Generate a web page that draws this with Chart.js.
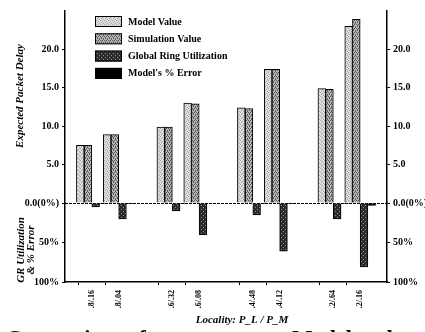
<!DOCTYPE html>
<html>
<head>
<meta charset="utf-8">
<script src="https://cdn.jsdelivr.net/npm/chart.js@4.4.0/dist/chart.umd.min.js"></script>
<style>
  html, body { margin: 0; padding: 0; background: #fff; }
  #wrap { position: relative; width: 425px; height: 332px; overflow: hidden; }
  .caption { position: absolute; top: 325px; font: bold 22px "Liberation Serif", serif; color: #000; white-space: nowrap; }
</style>
</head>
<body>
<div id="wrap">
  <canvas id="chart" width="425" height="332"></canvas>
  <div class="caption" style="left:6px;">Comparison of</div>
  <div class="caption" style="left:292px;">Model and</div>
</div>
<script>
// categories (blank slots separate the locality pairs)
const localities = ['', '.8/.16', '.8/.04', '', '.6/.32', '.6/.08', '', '.4/.48', '.4/.12', '', '.2/.64', '.2/.16', ''];

// expected packet delay
const modelValue = [null, 7.5, 8.9, null, 9.9, 13.0, null, 12.4, 17.4, null, 14.9, 23.0, null];
const simulationValue = [null, 7.5, 8.9, null, 9.9, 12.9, null, 12.3, 17.4, null, 14.8, 23.9, null];

// percentages (drawn downward)
const ringUtilization = [null, 5, 20, null, 10, 40, null, 15, 61, null, 20, 81, null];
const modelError = [null, 0.4, 0.3, null, 0.4, 0.6, null, 0.5, 0.3, null, 0.4, 3, null];

const seriesNames = ['Model Value', 'Simulation Value', 'Global Ring Utilization', "Model's % Error"];

const SERIF = '"Liberation Serif", "DejaVu Serif", serif';
Chart.defaults.font.family = SERIF;
Chart.defaults.color = '#000';

function makePattern(bg, fg, dots) {
    const c = document.createElement('canvas');
    c.width = 4;
    c.height = 4;
    const g = c.getContext('2d');
    g.fillStyle = bg;
    g.fillRect(0, 0, 4, 4);
    g.fillStyle = fg;
    dots.forEach(d => g.fillRect(d[0], d[1], 1, 1));
    return g.createPattern(c, 'repeat');
}

const fills = [
    makePattern('#dcdcdc', '#a4a4a4', [[0, 0], [2, 1], [1, 2], [3, 3]]),
    makePattern('#b8b8b8', '#5a5a5a', [[0, 0], [2, 0], [1, 2], [3, 2], [1, 1], [3, 3]]),
    makePattern('#2c2c2c', '#8e8e8e', [[1, 1], [3, 3]]),
    '#000'
];

const tickFont = { family: SERIF, size: 10, weight: 'bold' };

// zero line + titles + legend
const decorations = {
    id: 'decorations',
    beforeDatasetsDraw(chart) {
        const { ctx, chartArea } = chart;
        const y0 = Math.round(chart.scales.yTop.getPixelForValue(0)) + 0.5;
        ctx.save();
        ctx.strokeStyle = '#000';
        ctx.lineWidth = 1;
        ctx.setLineDash([3, 1]);
        ctx.beginPath();
        ctx.moveTo(chartArea.left, y0);
        ctx.lineTo(chartArea.right, y0);
        ctx.stroke();
        ctx.restore();
    },
    afterDraw(chart) {
        const ctx = chart.ctx;
        ctx.save();
        ctx.fillStyle = '#000';
        ctx.textAlign = 'center';
        ctx.textBaseline = 'middle';

        // y titles
        ctx.font = 'italic bold 11px ' + SERIF;
        ctx.save();
        ctx.translate(20, 96);
        ctx.rotate(-Math.PI / 2);
        ctx.fillText('Expected Packet Delay', 0, 0);
        ctx.restore();

        ctx.save();
        ctx.translate(21, 250);
        ctx.rotate(-Math.PI / 2);
        ctx.fillText('GR Utilization', 0, 0);
        ctx.fillText('& % Error', 0, 10);
        ctx.restore();

        // x title
        ctx.fillText('Locality: P_L / P_M', 242, 320);

        // legend
        ctx.textAlign = 'left';
        ctx.font = 'bold 10px ' + SERIF;
        chart.data.datasets.forEach((ds, i) => {
            const top = 16 + i * 17.3;
            ctx.fillStyle = ds.backgroundColor;
            ctx.fillRect(95, top, 27, 11);
            ctx.strokeStyle = '#000';
            ctx.lineWidth = 1;
            ctx.strokeRect(95.5, top + 0.5, 26, 10);
            ctx.fillStyle = '#000';
            ctx.fillText(ds.label, 128, top + 6);
        });
        ctx.restore();
    }
};

const hidden = 'rgba(0,0,0,0)';

function delayAxis(position) {
    return {
        position: position,
        stack: position,
        stackWeight: 192,
        min: 0,
        max: 25,
        border: { color: '#000', width: 1.5 },
        grid: {
            drawOnChartArea: false,
            tickLength: 3,
            tickColor: c => (c.tick && c.tick.value === 25) ? hidden : '#000'
        },
        ticks: {
            stepSize: 5,
            padding: 3,
            font: tickFont,
            color: '#000',
            callback: v => v === 25 ? '' : (v === 0 ? '0.0(0%)' : v.toFixed(1))
        },
        afterFit: s => { s.width = position === 'left' ? 65 : 38; }
    };
}

function percentAxis(position) {
    return {
        position: position,
        stack: position,
        stackWeight: 79,
        min: 0,
        max: 100,
        reverse: true,
        border: { color: '#000', width: 1.5 },
        grid: {
            drawOnChartArea: false,
            tickLength: 3,
            tickColor: c => (c.tick && c.tick.value === 0) ? hidden : '#000'
        },
        ticks: {
            stepSize: 50,
            padding: 3,
            font: tickFont,
            color: '#000',
            callback: v => v === 0 ? '' : v + '%'
        },
        afterFit: s => { s.width = position === 'left' ? 65 : 38; }
    };
}

new Chart(document.getElementById('chart'), {
    type: 'bar',
    data: {
        labels: localities,
        datasets: [
            { label: seriesNames[0], data: modelValue, yAxisID: 'yTop', backgroundColor: fills[0] },
            { label: seriesNames[1], data: simulationValue, yAxisID: 'yTop', backgroundColor: fills[1] },
            { label: seriesNames[2], data: ringUtilization, yAxisID: 'yLow', backgroundColor: fills[2] },
            { label: seriesNames[3], data: modelError, yAxisID: 'yLow', backgroundColor: fills[3] }
        ]
    },
    options: {
        responsive: false,
        animation: false,
        layout: { padding: { top: 11 } },
        datasets: {
            bar: {
                barThickness: 7.7,
                borderColor: '#000',
                borderWidth: 1,
                borderSkipped: 'start'
            }
        },
        plugins: {
            legend: { display: false },
            tooltip: { enabled: false }
        },
        scales: {
            x: {
                offset: false,
                border: { color: '#000', width: 1.5 },
                grid: {
                    drawOnChartArea: false,
                    tickLength: 3,
                    tickColor: c => (c.tick && c.tick.label) ? '#000' : hidden
                },
                ticks: {
                    autoSkip: false,
                    minRotation: 90,
                    maxRotation: 90,
                    padding: 5,
                    font: { family: SERIF, size: 8, weight: 'bold' },
                    color: '#000'
                },
                afterFit: s => { s.height = 50; }
            },
            // left stack is placed in reverse order, so the lower axis comes first
            yLow: percentAxis('left'),
            yTop: delayAxis('left'),
            yRTop: delayAxis('right'),
            yRLow: percentAxis('right')
        }
    },
    plugins: [decorations]
});
</script>
</body>
</html>
